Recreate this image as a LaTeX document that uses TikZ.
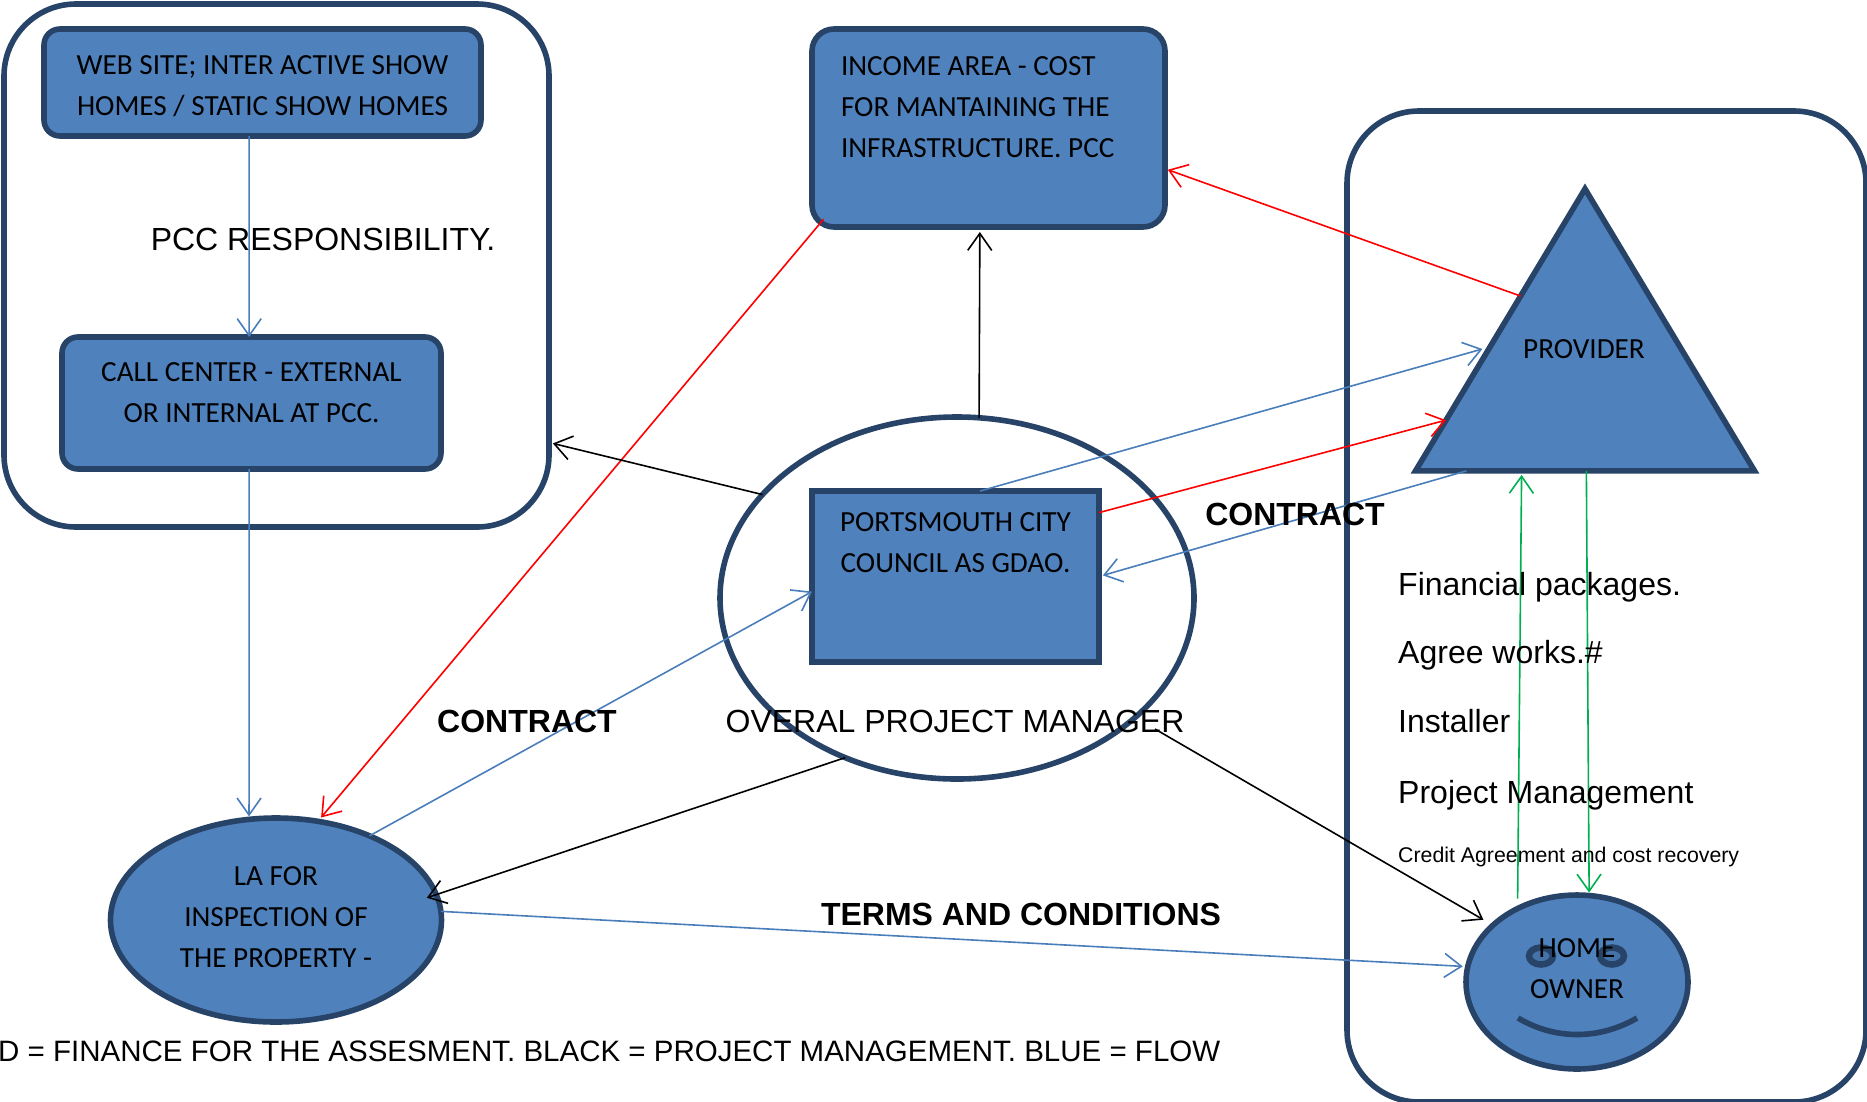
\documentclass[tikz,border=0pt]{standalone}
\usepackage{fontspec}
\setmainfont{Liberation Sans}
\newfontfamily\boxfont{Carlito}
\usetikzlibrary{arrows.meta, shapes.geometric, calc}

\definecolor{shapefill}{HTML}{4F81BD}
\definecolor{shapeline}{HTML}{274368}
\definecolor{flowblue}{HTML}{4A7EBB}
\definecolor{flowgreen}{HTML}{00B050}

\tikzset{
    boxtext/.style={font=\boxfont\fontsize{29.2}{41}\selectfont, text=black, align=center},
    panel/.style={draw=shapeline, line width=5.6pt, rounded corners=72pt, outer sep=0pt},
    shapebox/.style={boxtext, draw=shapeline, fill=shapefill, line width=5.6pt, rectangle, inner sep=0pt, outer sep=0pt},
    shapeoval/.style={shapebox, ellipse},
    eyering/.style={draw=shapeline, fill=shapefill!75!shapeline, line width=6.5pt, ellipse, inner sep=0pt, outer sep=0pt,
        minimum width=24pt, minimum height=17pt},
    plaintext/.style={font=\fontsize{32}{38}\selectfont, inner sep=0pt},
    boldtext/.style={font=\bfseries\fontsize{32}{38}\selectfont, inner sep=0pt},
}

\begin{document}
\begin{tikzpicture}[x=1pt, y=-1pt]
\useasboundingbox (0, 0) rectangle (1867, 1101);

\begin{scope}
    \node (pcc) at (276.5, 265.5) [panel, minimum width=545pt, minimum height=523pt] {};
    \node (owner) at (1606.5, 606.5) [panel, minimum width=519pt, minimum height=991pt] {};

    \node (web) at (262.5, 82.5) [shapebox, rounded corners=16pt, minimum width=437pt, minimum height=107pt]
        {\rule{0pt}{27pt}WEB SITE; INTER ACTIVE SHOW\\HOMES / STATIC SHOW HOMES};
    \node (call) at (251.5, 403) [shapebox, rounded corners=16pt, minimum width=379pt, minimum height=132pt]
        {CALL CENTER - EXTERNAL\\OR INTERNAL AT PCC.\\[-21pt]\mbox{}};
    \node (income) at (988.5, 128) [shapebox, rounded corners=22pt, minimum width=353pt, minimum height=198pt,
        text width=295pt, align=flush left]
        {INCOME AREA - COST\\FOR MANTAINING THE\\INFRASTRUCTURE. PCC\\\mbox{}};

    \node (gdao) at (957, 598) [draw=shapeline, line width=5.6pt, ellipse, outer sep=0pt,
        minimum width=474pt, minimum height=362pt] {};
    \node (council) at (955.5, 576.5) [shapebox, minimum width=287pt, minimum height=171pt]
        {PORTSMOUTH CITY\\COUNCIL AS GDAO.\\[27pt]\mbox{}};

    \node (la) at (276, 920) [shapeoval, minimum width=331pt, minimum height=204pt]
        {LA FOR\\INSPECTION OF\\THE PROPERTY -\\[-36pt]\mbox{}};

    \node (home) at (1577, 982) [shapeoval, minimum width=222pt, minimum height=174pt] {};
    \node (eyeleft) at (1541, 956) [eyering] {};
    \node (eyeright) at (1612, 956) [eyering] {};
    \draw [shapeline, line width=5.6pt] (1518, 1018) .. controls (1555, 1040) and (1599, 1040) .. (1637, 1018);
    \node (hometext) at (1577, 969) [boxtext] {HOME\\OWNER};

    \node (provider) at (1585, 375) [isosceles triangle, shape border rotate=90, isosceles triangle apex angle=62,
        isosceles triangle stretches, draw=shapeline, fill=shapefill, line width=5.6pt, inner sep=0pt, outer sep=0pt,
        minimum width=339pt, minimum height=282pt] {};
    \node (providertext) at (1584, 349) [boxtext] {PROVIDER};
\end{scope}

\begin{scope}[>={Straight Barb[length=17pt, width=24pt]},
              every edge/.style={draw=flowblue, line width=1.6pt}]
    \path [->] (web.256) edge (call.92);
    \path [->] (call.268) edge [shorten >=3pt] (la.105);
    \path [->] (la.42) edge (council.186);
    \path [->] (la.3) edge [shorten >=5pt] (home.172);
    \path [->] (council.74) edge [shorten >=8pt] ($(provider.left corner)!.44!(provider.apex)$);
    \path [->] ($(provider.left corner)!.15!(provider.right corner)$) edge [shorten >=4pt] (council.east);
\end{scope}

\begin{scope}[>={Straight Barb[length=17pt, width=24pt]},
              every edge/.style={draw=red, line width=1.6pt}]
    \path [->] (income.210) edge [shorten <=-10pt, shorten >=5pt] (la.67);
    \path [->] ($(provider.left corner)!.62!(provider.apex)$) edge [shorten >=3pt] (income.347);
    \path [->] (council.24) edge ($(provider.left corner)!.18!(provider.apex)$);
\end{scope}

\begin{scope}[>={Straight Barb[length=17pt, width=24pt]},
              every edge/.style={draw=black, line width=1.6pt}]
    \path [->] (gdao.83) edge [shorten >=5pt] (income.265);
    \path [->] (gdao.152) edge [shorten >=4pt] (pcc.327);
    \path [->] (gdao.235) edge [shorten >=-10pt] (la.9);
    \coordinate (managerend) at (1155, 729);
    \path [->] (managerend) edge [shorten >=11pt] (home.146);
\end{scope}

\begin{scope}[>={Straight Barb[length=17pt, width=24pt]},
              every edge/.style={draw=flowgreen, line width=1.6pt}]
    \path [->] (home.129) edge [shorten <=10pt, shorten >=4pt] ($(provider.left corner)!.313!(provider.right corner)$);
    \path [->] ($(provider.left corner)!.504!(provider.right corner)$) edge [shorten >=3pt] (home.82);
\end{scope}

\node (pcclabel) at (323, 239) [plaintext] {PCC RESPONSIBILITY.};
\node (manager) at (955, 721) [plaintext] {OVERAL PROJECT MANAGER};
\node (contractla) at (527, 721) [boldtext] {CONTRACT};
\node (contractprovider) at (1295, 514) [boldtext] {CONTRACT};
\node (terms) at (1021, 914) [boldtext] {TERMS AND CONDITIONS};

\node (packages) at (1398, 587) [plaintext, anchor=west] {Financial packages.};
\node (works) at (1398, 655) [plaintext, anchor=west] {Agree works.\#};
\node (installer) at (1398, 721) [plaintext, anchor=west] {Installer};
\node (management) at (1398, 795) [plaintext, anchor=west] {Project Management};
\node (credit) at (1398, 857) [plaintext, anchor=west, font=\fontsize{21.3}{26}\selectfont] {Credit Agreement and cost recovery};

\node (legend) at (-2, 1051) [plaintext, anchor=west, font=\fontsize{29.5}{36}\selectfont] {D = FINANCE FOR THE ASSESMENT. BLACK = PROJECT MANAGEMENT. BLUE = FLOW};
\end{tikzpicture}
\end{document}
